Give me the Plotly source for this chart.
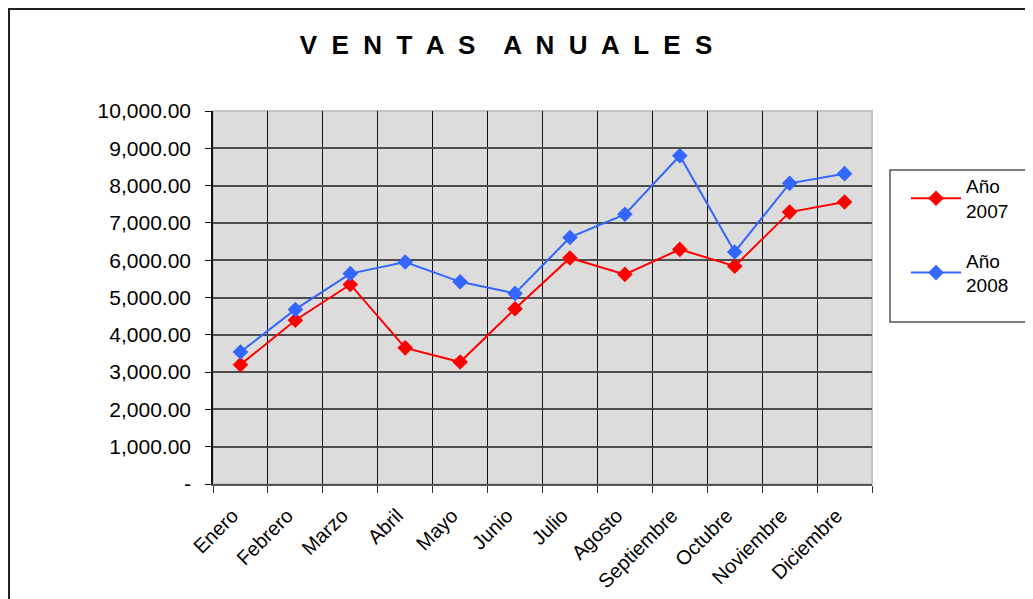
import plotly.graph_objects as go

meses = ["Enero", "Febrero", "Marzo", "Abril", "Mayo", "Junio", "Julio",
         "Agosto", "Septiembre", "Octubre", "Noviembre", "Diciembre"]
ventas_2007 = [3200, 4390, 5350, 3650, 3270, 4700, 6060, 5620, 6290, 5840, 7290, 7560]
ventas_2008 = [3540, 4680, 5640, 5950, 5420, 5110, 6610, 7230, 8800, 6220, 8060, 8320]
y_ticks = [0, 1000, 2000, 3000, 4000, 5000, 6000, 7000, 8000, 9000, 10000]
y_ticktext = ["-"] + [f"{v:,.2f}" for v in y_ticks[1:]]
titulo = "VENTAS ANUALES"

FONT = "Liberation Sans, Arial, sans-serif"

fig = go.Figure()
fig.add_trace(go.Scatter(
    x=meses, y=ventas_2007, name="Año<br>2007", mode="lines+markers",
    line=dict(color="#ff0000", width=2),
    marker=dict(symbol="diamond", size=12, color="#ff0000"),
    legendgroup="a",
))
fig.add_trace(go.Scatter(
    x=meses, y=ventas_2008, name="Año<br>2008", mode="lines+markers",
    line=dict(color="#3366ff", width=2),
    marker=dict(symbol="diamond", size=12, color="#3366ff"),
    legendgroup="b",
))

# page body has an 8px margin: work in figure coordinates = page - 8
OFF = 8
W, H = 1033 - OFF, 599 - OFF
L, T = 213 - OFF, 111 - OFF
R = W - (872 - OFF)
B = H - (484 - OFF)
pw, ph = W - L - R, H - T - B

def px_x(px):
    return (px - 213) / pw

def px_y(py):
    return (484 - py) / ph

spaced = "    ".join("  ".join(word) for word in titulo.split(" "))

fig.update_layout(
    width=W, height=H,
    margin=dict(l=L, r=R, t=T, b=B, pad=0, autoexpand=False),
    paper_bgcolor="white",
    plot_bgcolor="#dcdcdc",
    font=dict(family=FONT, color="black", size=18),
    title=dict(
        text=spaced,
        x=(506 - OFF) / W, xref="container", xanchor="center",
        y=1 - (45 - OFF) / H, yref="container", yanchor="middle",
        font=dict(family=FONT, size=26, color="black", weight="bold"),
        automargin=False,
    ),
    legend=dict(
        x=px_x(890), xanchor="left",
        y=px_y(167), yanchor="top",
        borderwidth=0,
        bgcolor="rgba(0,0,0,0)",
        font=dict(family=FONT, size=19),
        traceorder="grouped", tracegroupgap=22,
        indentation=16, itemwidth=50,
    ),
    xaxis=dict(
        type="category", range=[-0.5, 11.5],
        tickson="boundaries",
        automargin=False,
        showgrid=True, gridcolor="#111111", gridwidth=1,
        showline=True, linecolor="#555555", linewidth=2,
        ticks="outside", ticklen=7, tickcolor="#333333", tickwidth=1,
        tickangle=-45,
        ticklabelstandoff=10, ticklabelshift=-8,
        tickfont=dict(family=FONT, size=20),
        zeroline=False,
    ),
    yaxis=dict(
        range=[0, 10000],
        automargin=False,
        tickvals=y_ticks, ticktext=y_ticktext,
        showgrid=True, gridcolor="#4d4d4d", gridwidth=1.5,
        showline=True, linecolor="#111111", linewidth=1.5,
        ticks="outside", ticklen=6, tickcolor="#111111", tickwidth=1,
        ticklabelstandoff=10,
        tickfont=dict(family=FONT, size=21),
        zeroline=False,
    ),
    shapes=[
        dict(type="rect", xref="paper", yref="paper", x0=0, x1=1, y0=0, y1=1,
             line=dict(color="#c4c4c4", width=2), layer="below"),
        dict(type="rect", xref="paper", yref="paper",
             x0=(1 - L) / pw, x1=2.0, y0=-1.0, y1=(H - B - 1) / ph,
             line=dict(color="#222222", width=2), fillcolor="rgba(0,0,0,0)", layer="below"),
        # legend frame
        dict(type="rect", xref="paper", yref="paper",
             x0=px_x(890), x1=px_x(1026), y0=px_y(322), y1=px_y(170),
             line=dict(color="#555555", width=1.5), fillcolor="white", layer="below"),
    ],
)

fig.write_html("out.html")
